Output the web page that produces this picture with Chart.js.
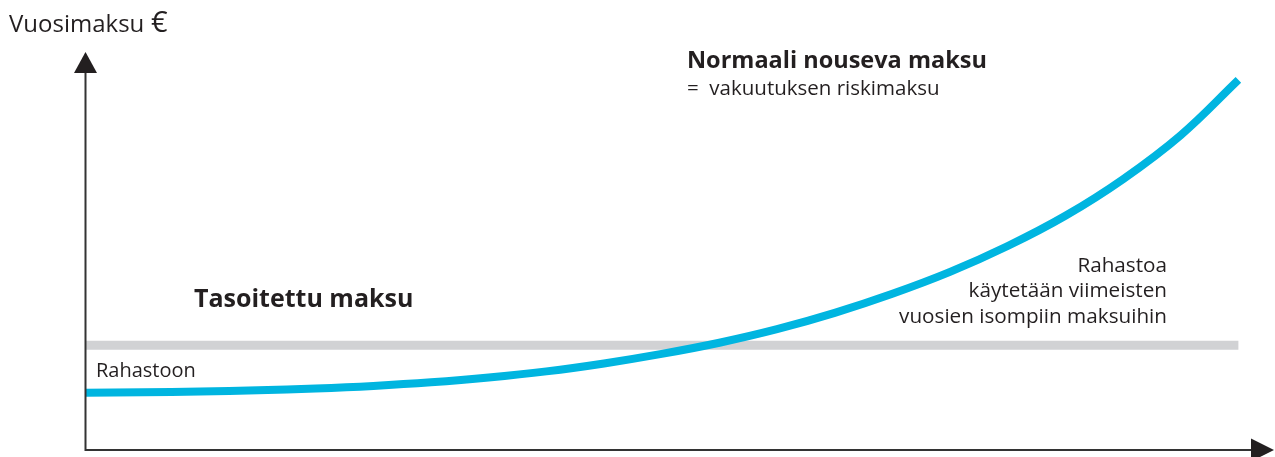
<!DOCTYPE html>
<html>
<head>
<meta charset="utf-8">
<script src="https://cdn.jsdelivr.net/npm/chart.js@4/dist/chart.umd.min.js"></script>
<style>
  html, body { margin: 0; padding: 0; background: #ffffff; }
  #wrap { width: 1275px; height: 457px; position: relative; }
</style>
</head>
<body>
<div id="wrap"><canvas id="c" width="1275" height="457"></canvas></div>
<script>
// Years (relative position along the insurance period)
const years = [0, 5, 10, 15, 20, 25, 30, 35, 40, 45, 50, 55, 60, 65, 70, 75, 80, 85, 90, 95, 100];
// Normal rising premium (= risk premium), relative units
const risingPremium = [14.4, 14.5, 14.7, 15.0, 15.45, 16.1, 17.0, 18.2, 19.75, 21.75, 24.15, 26.95, 30.35, 34.45, 39.25, 44.75, 51.25, 58.85, 68.05, 79.1, 93.0];
// Levelled premium, relative units
const levelYears = [0, 100];
const levelPremium = [26.3, 26.3];

const FONT = '"Open Sans", "Noto Sans", sans-serif';
const TEXT = '#231f20';

const decor = {
  id: 'decor',
  afterDatasetsDraw(chart) {
    const { ctx, chartArea: a } = chart;
    ctx.save();
    // axes
    ctx.strokeStyle = '#333333';
    ctx.fillStyle = '#231f20';
    ctx.lineWidth = 2;
    const x0 = a.left + 0.5, y0 = a.bottom;
    ctx.beginPath();
    ctx.moveTo(x0, y0); ctx.lineTo(x0, a.top + 20);
    ctx.moveTo(x0 - 1, y0); ctx.lineTo(a.right - 20, y0);
    ctx.stroke();
    // arrowheads
    ctx.beginPath();
    ctx.moveTo(x0, a.top); ctx.lineTo(x0 - 11.5, a.top + 21); ctx.lineTo(x0 + 11.5, a.top + 21); ctx.closePath();
    ctx.fill();
    ctx.beginPath();
    ctx.moveTo(a.right + 1, y0); ctx.lineTo(a.right - 22, y0 - 11.5); ctx.lineTo(a.right - 22, y0 + 11.5); ctx.closePath();
    ctx.fill();

    // texts
    ctx.fillStyle = TEXT;
    ctx.textBaseline = 'alphabetic';
    ctx.textAlign = 'left';
    ctx.font = '24px ' + FONT;
    ctx.fillText('Vuosimaksu', 9, 32);
    ctx.font = '29px ' + FONT;
    ctx.fillText('\u20AC', 151, 32);
    ctx.font = 'bold 23.5px ' + FONT;
    ctx.fillText('Normaali nouseva maksu', 687, 68);
    ctx.font = '20.5px ' + FONT;
    ctx.fillText('=  vakuutuksen riskimaksu', 687, 95);
    ctx.font = 'bold 25px ' + FONT;
    ctx.fillText('Tasoitettu maksu', 194, 307);
    ctx.font = '20px ' + FONT;
    ctx.fillText('Rahastoon', 96, 377);
    ctx.font = '20.7px ' + FONT;
    ctx.textAlign = 'right';
    ctx.fillText('Rahastoa', 1167, 272);
    ctx.fillText('k\u00e4ytet\u00e4\u00e4n viimeisten', 1167, 297);
    ctx.fillText('vuosien isompiin maksuihin', 1167, 323);
    ctx.restore();
  }
};

new Chart(document.getElementById('c'), {
  type: 'line',
  data: {
    datasets: [
      {
        label: 'Tasoitettu maksu',
        data: levelYears.map((x, i) => ({ x, y: levelPremium[i] })),
        borderColor: '#d1d2d4',
        borderWidth: 9,
        pointRadius: 0,
        tension: 0,
        clip: false,
        order: 2
      },
      {
        label: 'Normaali nouseva maksu',
        data: years.map((x, i) => ({ x, y: risingPremium[i] })),
        borderColor: '#00b5e0',
        borderWidth: 8,
        pointRadius: 0,
        tension: 0.4,
        clip: false,
        order: 1
      }
    ]
  },
  options: {
    responsive: false,
    animation: false,
    devicePixelRatio: 1,
    layout: { padding: { left: 85, right: 2, top: 52, bottom: 7 } },
    plugins: { legend: { display: false }, tooltip: { enabled: false } },
    scales: {
      x: { type: 'linear', min: 0, max: 103, display: false },
      y: { type: 'linear', min: 0, max: 100, display: false }
    }
  },
  plugins: [decor]
});
</script>
</body>
</html>
